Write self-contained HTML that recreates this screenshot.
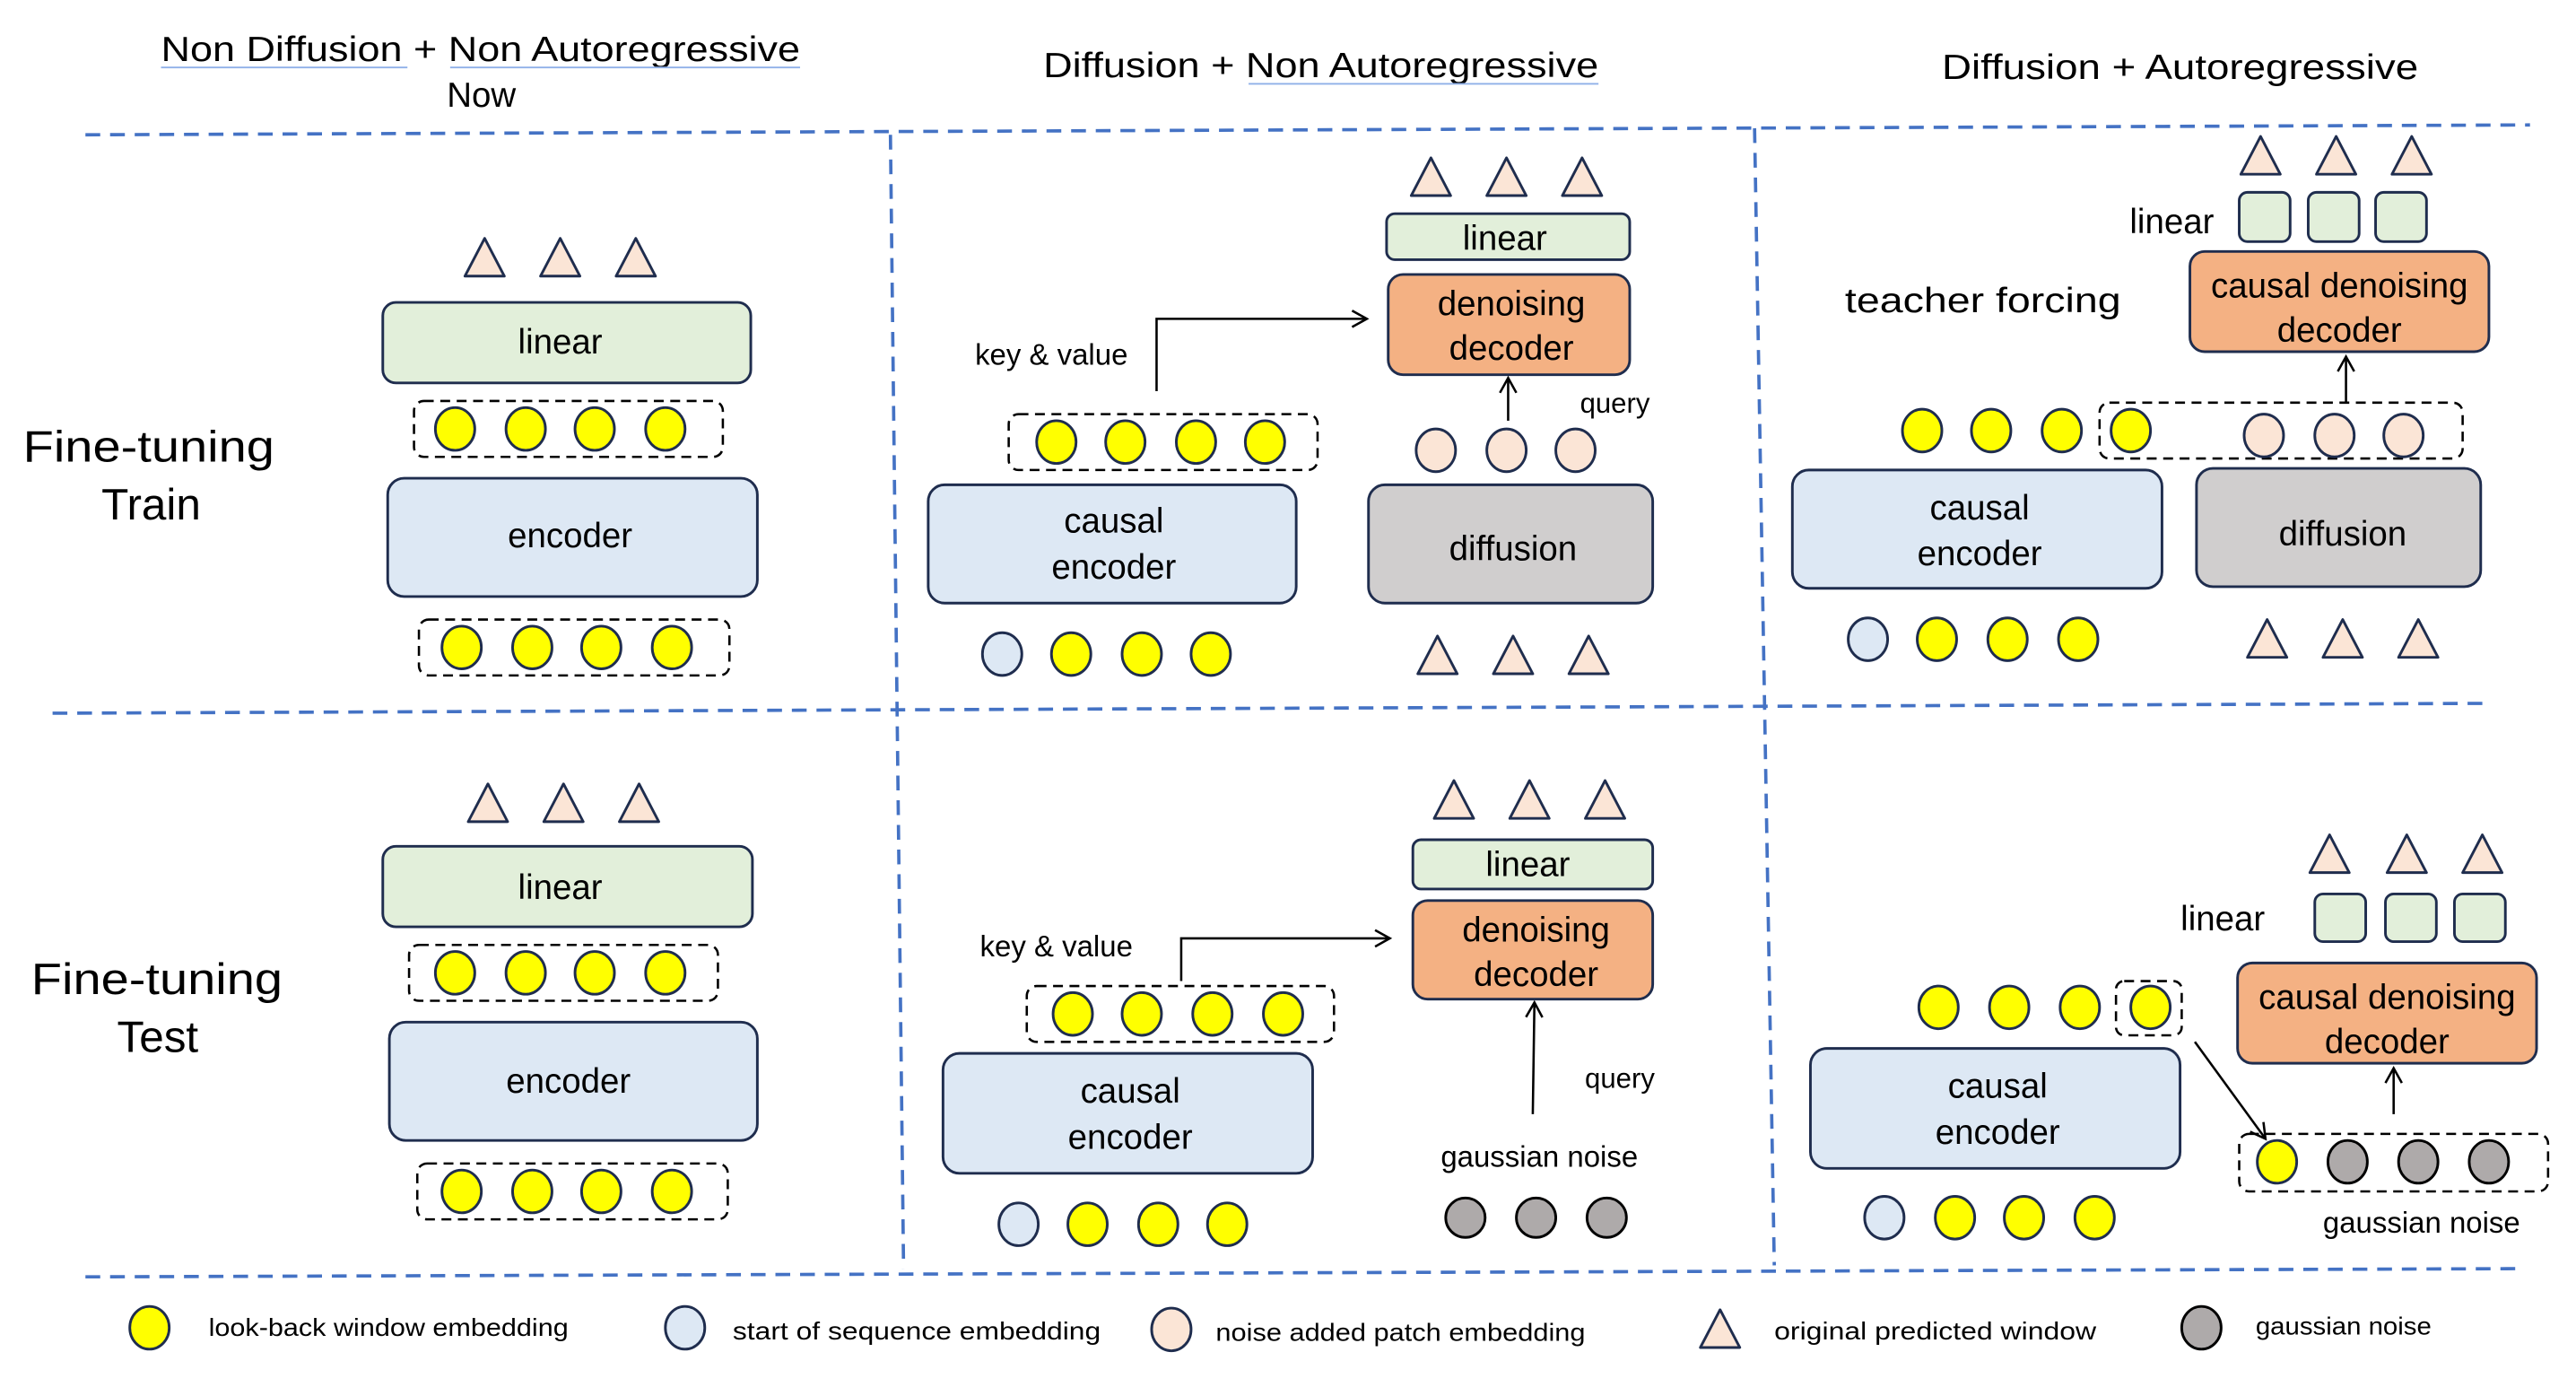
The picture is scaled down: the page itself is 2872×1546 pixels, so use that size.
<!DOCTYPE html>
<html><head><meta charset="utf-8"><style>
html,body{margin:0;padding:0;background:#fff}
svg{display:block}
text{font-family:"Liberation Sans",sans-serif;fill:#000}
.b{stroke:#1f2d4e;stroke-width:1.6}
.d{fill:none;stroke:#4472c4;stroke-width:2;stroke-dasharray:9,6}
.db{fill:none;stroke:#000;stroke-width:1.4;stroke-dasharray:6,4}
.y{fill:#ffff00;stroke:#1f2d4e;stroke-width:1.6}
.lb{fill:#dde8f4;stroke:#1f2d4e;stroke-width:1.6}
.pe{fill:#fbe5d6;stroke:#1f2d4e;stroke-width:1.6}
.gr{fill:#aeaaaa;stroke:#000;stroke-width:1.6}
.ln{stroke:#000;stroke-width:1.4;fill:none}
</style></head><body>
<svg width="2872" height="1546" viewBox="0 0 1568 844" xmlns="http://www.w3.org/2000/svg">
<defs>
<marker id="ar" markerWidth="12" markerHeight="12" refX="10" refY="6" orient="auto" markerUnits="userSpaceOnUse"><path d="M1,1 L10,6 L1,11" fill="none" stroke="#000" stroke-width="1.4"/></marker>
<g id="tri"><path d="M0,-12 L12,11 L-12,11 Z" fill="#fbe5d6" stroke="#1f2d4e" stroke-width="1.6" stroke-linejoin="round"/></g>
</defs>
<line class="d" x1="52" y1="82" x2="1540" y2="76"/>
<line class="d" x1="32" y1="434" x2="1515" y2="428"/>
<line class="d" x1="52" y1="777" x2="1535" y2="772"/>
<line class="d" x1="542" y1="82" x2="550" y2="772"/>
<line class="d" x1="1068" y1="78" x2="1080" y2="770"/>
<g font-size="21">
<text x="98" y="37" textLength="389" lengthAdjust="spacingAndGlyphs">Non Diffusion + Non Autoregressive</text>
<text x="293" y="65" text-anchor="middle">Now</text>
<text x="635" y="47" textLength="338" lengthAdjust="spacingAndGlyphs">Diffusion + Non Autoregressive</text>
<text x="1182" y="48" textLength="290" lengthAdjust="spacingAndGlyphs">Diffusion + Autoregressive</text>
</g>
<line x1="98" y1="41" x2="248" y2="41" stroke="#8fb0e8" stroke-width="1"/>
<line x1="274" y1="41" x2="487" y2="41" stroke="#8fb0e8" stroke-width="1"/>
<line x1="760" y1="51" x2="973" y2="51" stroke="#8fb0e8" stroke-width="1"/>
<g font-size="27">
<text x="14" y="281" textLength="153" lengthAdjust="spacingAndGlyphs">Fine-tuning</text><text x="92" y="316" text-anchor="middle">Train</text>
<text x="19" y="605" textLength="153" lengthAdjust="spacingAndGlyphs">Fine-tuning</text><text x="96" y="640" text-anchor="middle">Test</text>
</g>
<g font-size="21" text-anchor="middle">
<use href="#tri" x="295" y="157"/><use href="#tri" x="341" y="157"/><use href="#tri" x="387" y="157"/>
<rect x="233" y="184" width="224" height="49" rx="8" fill="#e2efda" class="b"/><text x="341" y="215">linear</text>
<rect x="252" y="244" width="188" height="34" rx="6" class="db"/>
<ellipse class="y" cx="277" cy="261" rx="12" ry="13"/><ellipse class="y" cx="320" cy="261" rx="12" ry="13"/><ellipse class="y" cx="362" cy="261" rx="12" ry="13"/><ellipse class="y" cx="405" cy="261" rx="12" ry="13"/>
<rect x="236" y="291" width="225" height="72" rx="10" class="lb"/><text x="347" y="333">encoder</text>
<rect x="255" y="377" width="189" height="34" rx="6" class="db"/>
<ellipse class="y" cx="281" cy="394" rx="12" ry="13"/><ellipse class="y" cx="324" cy="394" rx="12" ry="13"/><ellipse class="y" cx="366" cy="394" rx="12" ry="13"/><ellipse class="y" cx="409" cy="394" rx="12" ry="13"/>
<use href="#tri" x="297" y="489"/><use href="#tri" x="343" y="489"/><use href="#tri" x="389" y="489"/>
<rect x="233" y="515" width="225" height="49" rx="8" fill="#e2efda" class="b"/><text x="341" y="547">linear</text>
<rect x="249" y="575" width="188" height="34" rx="6" class="db"/>
<ellipse class="y" cx="277" cy="592" rx="12" ry="13"/><ellipse class="y" cx="320" cy="592" rx="12" ry="13"/><ellipse class="y" cx="362" cy="592" rx="12" ry="13"/><ellipse class="y" cx="405" cy="592" rx="12" ry="13"/>
<rect x="237" y="622" width="224" height="72" rx="10" class="lb"/><text x="346" y="665">encoder</text>
<rect x="254" y="708" width="189" height="34" rx="6" class="db"/>
<ellipse class="y" cx="281" cy="725" rx="12" ry="13"/><ellipse class="y" cx="324" cy="725" rx="12" ry="13"/><ellipse class="y" cx="366" cy="725" rx="12" ry="13"/><ellipse class="y" cx="409" cy="725" rx="12" ry="13"/>
<use href="#tri" x="871" y="108"/><use href="#tri" x="917" y="108"/><use href="#tri" x="963" y="108"/>
<rect x="844" y="130" width="148" height="28" rx="5" fill="#e2efda" class="b"/><text x="916" y="152">linear</text>
<rect x="845" y="167" width="147" height="61" rx="9" fill="#f4b183" class="b"/><text x="920" y="192">denoising</text><text x="920" y="219">decoder</text>
<line class="ln" x1="918" y1="256" x2="918" y2="230" marker-end="url(#ar)"/>
<text x="983" y="251" font-size="17">query</text>
<ellipse class="pe" cx="874" cy="274" rx="12" ry="13"/><ellipse class="pe" cx="917" cy="274" rx="12" ry="13"/><ellipse class="pe" cx="959" cy="274" rx="12" ry="13"/>
<rect x="833" y="295" width="173" height="72" rx="10" fill="#d0cece" class="b"/><text x="921" y="341">diffusion</text>
<use href="#tri" x="875" y="399"/><use href="#tri" x="921" y="399"/><use href="#tri" x="967" y="399"/>
<text x="640" y="222" font-size="18">key &amp; value</text>
<polyline class="ln" points="704,238 704,194 832,194" marker-end="url(#ar)"/>
<rect x="614" y="252" width="188" height="34" rx="6" class="db"/>
<ellipse class="y" cx="643" cy="269" rx="12" ry="13"/><ellipse class="y" cx="685" cy="269" rx="12" ry="13"/><ellipse class="y" cx="728" cy="269" rx="12" ry="13"/><ellipse class="y" cx="770" cy="269" rx="12" ry="13"/>
<rect x="565" y="295" width="224" height="72" rx="10" class="lb"/><text x="678" y="324">causal</text><text x="678" y="352">encoder</text>
<ellipse class="lb" cx="610" cy="398" rx="12" ry="13"/><ellipse class="y" cx="652" cy="398" rx="12" ry="13"/><ellipse class="y" cx="695" cy="398" rx="12" ry="13"/><ellipse class="y" cx="737" cy="398" rx="12" ry="13"/>
<use href="#tri" x="885" y="487"/><use href="#tri" x="931" y="487"/><use href="#tri" x="977" y="487"/>
<rect x="860" y="511" width="146" height="30" rx="5" fill="#e2efda" class="b"/><text x="930" y="533">linear</text>
<rect x="860" y="548" width="146" height="60" rx="9" fill="#f4b183" class="b"/><text x="935" y="573">denoising</text><text x="935" y="600">decoder</text>
<line class="ln" x1="933" y1="678" x2="934" y2="610" marker-end="url(#ar)"/>
<text x="986" y="662" font-size="17">query</text>
<text x="937" y="710" font-size="18">gaussian noise</text>
<ellipse class="gr" cx="892" cy="741" rx="12" ry="12"/><ellipse class="gr" cx="935" cy="741" rx="12" ry="12"/><ellipse class="gr" cx="978" cy="741" rx="12" ry="12"/>
<text x="643" y="582" font-size="18">key &amp; value</text>
<polyline class="ln" points="719,597 719,571 846,571" marker-end="url(#ar)"/>
<rect x="625" y="600" width="187" height="34" rx="6" class="db"/>
<ellipse class="y" cx="653" cy="617" rx="12" ry="13"/><ellipse class="y" cx="695" cy="617" rx="12" ry="13"/><ellipse class="y" cx="738" cy="617" rx="12" ry="13"/><ellipse class="y" cx="781" cy="617" rx="12" ry="13"/>
<rect x="574" y="641" width="225" height="73" rx="10" class="lb"/><text x="688" y="671">causal</text><text x="688" y="699">encoder</text>
<ellipse class="lb" cx="620" cy="745" rx="12" ry="13"/><ellipse class="y" cx="662" cy="745" rx="12" ry="13"/><ellipse class="y" cx="705" cy="745" rx="12" ry="13"/><ellipse class="y" cx="747" cy="745" rx="12" ry="13"/>
<use href="#tri" x="1376" y="95"/><use href="#tri" x="1422" y="95"/><use href="#tri" x="1468" y="95"/>
<text x="1322" y="142">linear</text>
<rect x="1363" y="117" width="31" height="30" rx="5" fill="#e2efda" class="b"/><rect x="1405" y="117" width="31" height="30" rx="5" fill="#e2efda" class="b"/><rect x="1446" y="117" width="31" height="30" rx="5" fill="#e2efda" class="b"/>
<rect x="1333" y="153" width="182" height="61" rx="9" fill="#f4b183" class="b"/><text x="1424" y="181">causal denoising</text><text x="1424" y="208">decoder</text>
<line class="ln" x1="1428" y1="245" x2="1428" y2="217" marker-end="url(#ar)"/>
<text x="1123" y="190" text-anchor="start" textLength="168" lengthAdjust="spacingAndGlyphs">teacher forcing</text>
<ellipse class="y" cx="1170" cy="262" rx="12" ry="13"/><ellipse class="y" cx="1212" cy="262" rx="12" ry="13"/><ellipse class="y" cx="1255" cy="262" rx="12" ry="13"/>
<rect x="1278" y="245" width="221" height="34" rx="6" class="db"/>
<ellipse class="y" cx="1297" cy="262" rx="12" ry="13"/><ellipse class="pe" cx="1378" cy="265" rx="12" ry="13"/><ellipse class="pe" cx="1421" cy="265" rx="12" ry="13"/><ellipse class="pe" cx="1463" cy="265" rx="12" ry="13"/>
<rect x="1091" y="286" width="225" height="72" rx="10" class="lb"/><text x="1205" y="316">causal</text><text x="1205" y="344">encoder</text>
<rect x="1337" y="285" width="173" height="72" rx="10" fill="#d0cece" class="b"/><text x="1426" y="332">diffusion</text>
<ellipse class="lb" cx="1137" cy="389" rx="12" ry="13"/><ellipse class="y" cx="1179" cy="389" rx="12" ry="13"/><ellipse class="y" cx="1222" cy="389" rx="12" ry="13"/><ellipse class="y" cx="1265" cy="389" rx="12" ry="13"/>
<use href="#tri" x="1380" y="389"/><use href="#tri" x="1426" y="389"/><use href="#tri" x="1472" y="389"/>
<use href="#tri" x="1418" y="520"/><use href="#tri" x="1465" y="520"/><use href="#tri" x="1511" y="520"/>
<text x="1353" y="566">linear</text>
<rect x="1409" y="544" width="31" height="29" rx="5" fill="#e2efda" class="b"/><rect x="1452" y="544" width="31" height="29" rx="5" fill="#e2efda" class="b"/><rect x="1494" y="544" width="31" height="29" rx="5" fill="#e2efda" class="b"/>
<rect x="1362" y="586" width="182" height="61" rx="9" fill="#f4b183" class="b"/><text x="1453" y="614">causal denoising</text><text x="1453" y="641">decoder</text>
<line class="ln" x1="1457" y1="678" x2="1457" y2="650" marker-end="url(#ar)"/>
<rect x="1363" y="690" width="188" height="35" rx="6" class="db"/>
<ellipse class="y" cx="1386" cy="707" rx="12" ry="13"/><ellipse class="gr" cx="1429" cy="707" rx="12" ry="13"/><ellipse class="gr" cx="1472" cy="707" rx="12" ry="13"/><ellipse class="gr" cx="1515" cy="707" rx="12" ry="13"/>
<text x="1474" y="750" font-size="18">gaussian noise</text>
<ellipse class="y" cx="1180" cy="613" rx="12" ry="13"/><ellipse class="y" cx="1223" cy="613" rx="12" ry="13"/><ellipse class="y" cx="1266" cy="613" rx="12" ry="13"/>
<rect x="1288" y="597" width="40" height="33" rx="5" class="db"/>
<ellipse class="y" cx="1309" cy="613" rx="12" ry="13"/>
<line class="ln" x1="1336" y1="634" x2="1379" y2="693" marker-end="url(#ar)"/>
<rect x="1102" y="638" width="225" height="73" rx="10" class="lb"/><text x="1216" y="668">causal</text><text x="1216" y="696">encoder</text>
<ellipse class="lb" cx="1147" cy="741" rx="12" ry="13"/><ellipse class="y" cx="1190" cy="741" rx="12" ry="13"/><ellipse class="y" cx="1232" cy="741" rx="12" ry="13"/><ellipse class="y" cx="1275" cy="741" rx="12" ry="13"/>
</g>
<g font-size="15">
<ellipse class="y" cx="91" cy="808" rx="12" ry="13"/><text x="127" y="813" textLength="219" lengthAdjust="spacingAndGlyphs">look-back window embedding</text>
<ellipse class="lb" cx="417" cy="808" rx="12" ry="13"/><text x="446" y="815" textLength="224" lengthAdjust="spacingAndGlyphs">start of sequence embedding</text>
<ellipse class="pe" cx="713" cy="809" rx="12" ry="13"/><text x="740" y="816" textLength="225" lengthAdjust="spacingAndGlyphs">noise added patch embedding</text>
<use href="#tri" x="1047" y="809"/><text x="1080" y="815" textLength="196" lengthAdjust="spacingAndGlyphs">original predicted window</text>
<ellipse class="gr" cx="1340" cy="808" rx="12" ry="13"/><text x="1373" y="812" textLength="107" lengthAdjust="spacingAndGlyphs">gaussian noise</text>
</g>
</svg>
</body></html>
